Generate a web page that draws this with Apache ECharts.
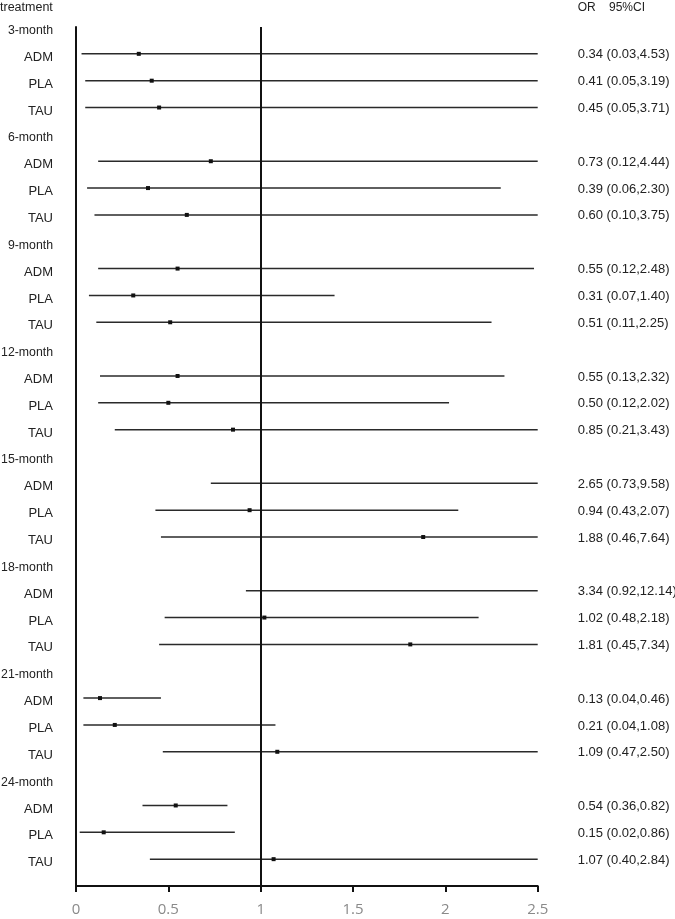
<!DOCTYPE html>
<html>
<head>
<meta charset="utf-8">
<script src="https://cdn.jsdelivr.net/npm/echarts@6/dist/echarts.min.js"></script>
<style>html,body{margin:0;padding:0;background:#fff;}#c{width:675px;height:919px;}</style>
</head>
<body>
<div id="c"></div>
<script>
const groups = ['3-month','6-month','9-month','12-month','15-month','18-month','21-month','24-month'];
const treatments = ['ADM','PLA','TAU'];
const orValues = [0.34,0.41,0.45, 0.73,0.39,0.60, 0.55,0.31,0.51, 0.55,0.50,0.85, 2.65,0.94,1.88, 3.34,1.02,1.81, 0.13,0.21,1.09, 0.54,0.15,1.07];
const ciLower  = [0.03,0.05,0.05, 0.12,0.06,0.10, 0.12,0.07,0.11, 0.13,0.12,0.21, 0.73,0.43,0.46, 0.92,0.48,0.45, 0.04,0.04,0.47, 0.36,0.02,0.40];
const ciUpper  = [4.53,3.19,3.71, 4.44,2.30,3.75, 2.48,1.40,2.25, 2.32,2.02,3.43, 9.58,2.07,7.64, 12.14,2.18,7.34, 0.46,1.08,2.50, 0.82,0.86,2.84];
const xTicks = [0, 0.5, 1, 1.5, 2, 2.5];

const X_MAX = 2.5;
const rowData = [];
const groupData = [];
groups.forEach((g, gi) => {
  const base = gi * 4 + 1;
  groupData.push([base, g]);
  treatments.forEach((t, ti) => {
    const k = gi * 3 + ti;
    rowData.push([base + 1 + ti, orValues[k], ciLower[k], ciUpper[k], t]);
  });
});

const chart = echarts.init(document.getElementById('c'));
const txtFont = 'Liberation Sans, Arial, sans-serif';
chart.setOption({
  animation: false,
  grid: { left: 76, right: 137.3, top: 27, bottom: 33, containLabel: false },
  xAxis: {
    type: 'value', min: 0, max: X_MAX, interval: 0.5,
    axisLine: { show: true, lineStyle: { color: '#111', width: 2 } },
    axisTick: { show: true, inside: false, length: 6, lineStyle: { color: '#111', width: 2 } },
    splitLine: { show: false },
    axisLabel: { color: '#8a8a8a', fontSize: 15, fontFamily: 'Open Sans, sans-serif', margin: 16,
      formatter: v => xTicks.includes(v) ? String(v) : '' }
  },
  yAxis: {
    type: 'value', min: 1, max: 33, inverse: true,
    axisLine: { show: true, lineStyle: { color: '#111', width: 2 } },
    axisTick: { show: false }, axisLabel: { show: false }, splitLine: { show: false }
  },
  graphic: [
    { type: 'text', x: 0, y: 7.5, style: { text: 'treatment', font: '12.5px ' + txtFont, fill: '#222', verticalAlign: 'middle' } },
    { type: 'text', x: 577.7, y: 7.5, style: { text: 'OR', font: '12px ' + txtFont, fill: '#222', verticalAlign: 'middle' } },
    { type: 'text', x: 609, y: 7.5, style: { text: '95%CI', font: '12px ' + txtFont, fill: '#222', verticalAlign: 'middle' } }
  ],
  series: [
    {
      type: 'custom',
      data: groupData,
      encode: { x: -1, y: 0 },
      renderItem: (params, api) => {
        const p = api.coord([0, api.value(0)]);
        return { type: 'text', x: p[0] - 23, y: p[1] + 3.5,
          style: { text: groupData[params.dataIndex][1], font: '12.3px ' + txtFont, fill: '#222', align: 'right', verticalAlign: 'middle' } };
      },
      silent: true
    },
    {
      type: 'custom',
      data: rowData,
      encode: { x: [1, 2, 3], y: 0 },
      renderItem: (params, api) => {
        const d = rowData[params.dataIndex];
        const row = d[0], or = d[1], lo = d[2], hi = d[3];
        const p0 = api.coord([Math.min(lo, X_MAX), row]);
        const p1 = api.coord([Math.min(hi, X_MAX), row]);
        const right = api.coord([X_MAX, row]);
        const left = api.coord([0, row]);
        const children = [
          { type: 'line', shape: { x1: p0[0], y1: p0[1], x2: p1[0], y2: p1[1] },
            style: { stroke: '#2a2a2a', lineWidth: 1.5 } },
          { type: 'text', x: left[0] - 23, y: left[1] + 3.5,
            style: { text: d[4], font: '13px ' + txtFont, fill: '#222', align: 'right', verticalAlign: 'middle' } },
          { type: 'text', x: right[0] + 40, y: right[1] + 1,
            style: { text: or.toFixed(2) + ' (' + lo.toFixed(2) + ',' + hi.toFixed(2) + ')', font: '13px ' + txtFont, fill: '#222', align: 'left', verticalAlign: 'middle' } }
        ];
        if (or <= X_MAX) {
          const pc = api.coord([or, row]);
          children.push({ type: 'rect', shape: { x: pc[0] - 2, y: pc[1] - 2, width: 4, height: 4 }, style: { fill: '#111' } });
        }
        return { type: 'group', children };
      },
      markLine: {
        silent: true, symbol: 'none', label: { show: false },
        lineStyle: { color: '#111', width: 2, type: 'solid' },
        data: [{ xAxis: 1 }]
      },
      silent: true
    }
  ]
});
</script>
</body>
</html>
